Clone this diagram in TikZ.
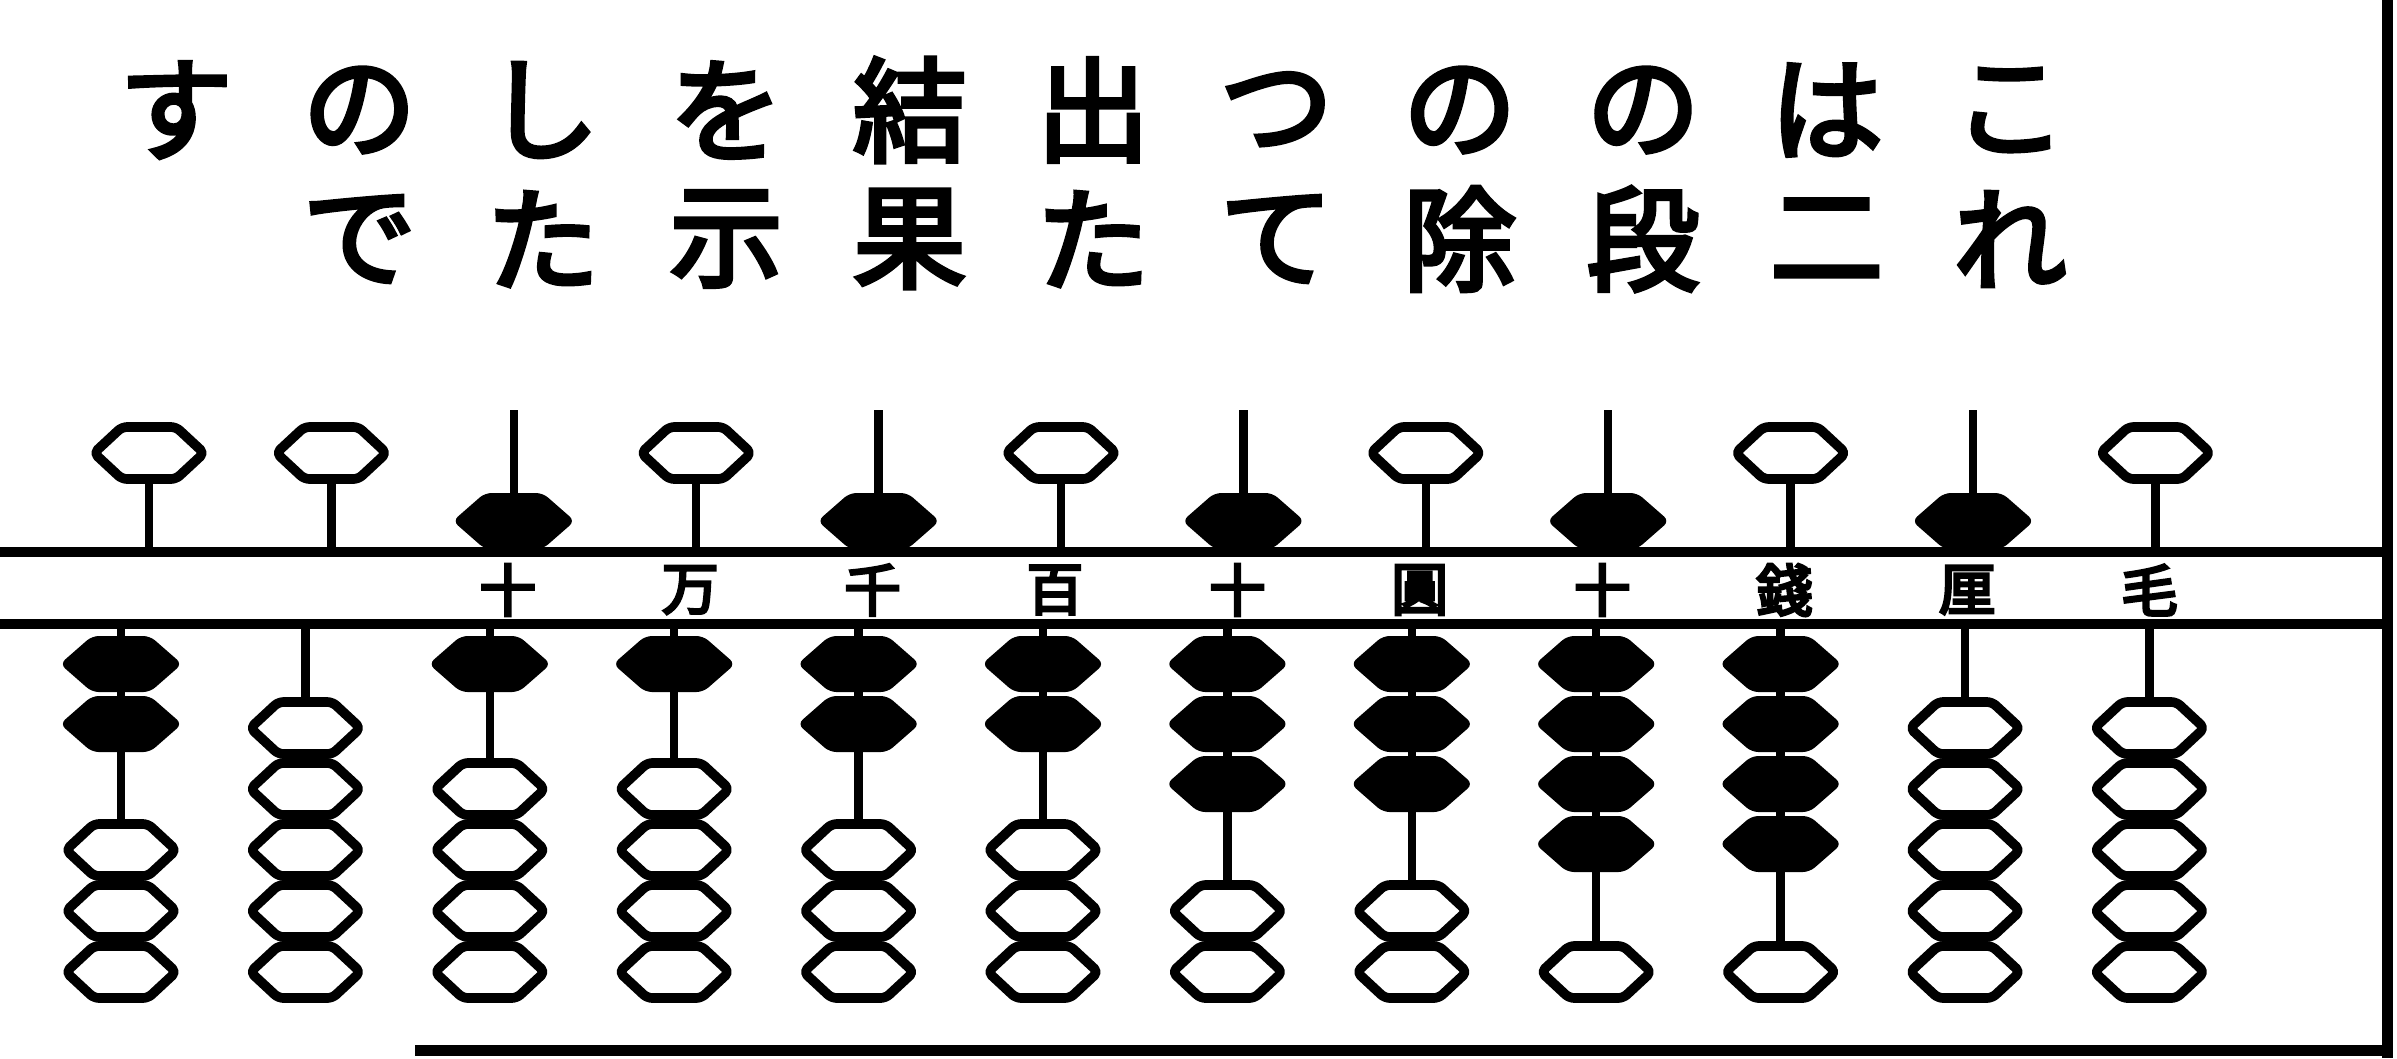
\documentclass[tikz,border=0pt]{standalone}
\usepackage{fontspec}
\newfontfamily\jpfont[FakeBold=4]{Noto Sans CJK JP}
\newfontfamily\jplabfont[FakeBold=5]{Noto Sans CJK JP}
\begin{document}
\begin{tikzpicture}[x=0.3pt,y=-0.3pt,
  headline/.style={font=\jpfont\fontsize{34}{34}\selectfont, inner sep=0pt},
  placelabel/.style={font=\jplabfont\fontsize{17}{17}\selectfont, inner sep=0pt},
  barline/.style={line width=2.8pt},
  rodline/.style={line width=2.5pt},
  frameline/.style={line width=3.3pt},
  beadoutline/.style={line width=2.9pt, line join=round, rounded corners=1.5pt},
  pics/emptybead/.style={code={
    \draw[beadoutline, fill=white] (-55,0) -- (-27,-26) -- (27,-26) -- (55,0)
      -- (27,26) -- (-27,26) -- cycle;}},
  pics/fullbead/.style={code={
    \fill[rounded corners=2pt] (-61,0) -- (-29,-28) -- (29,-28) -- (61,0)
      -- (29,28) -- (-29,28) -- cycle;}}
]
\useasboundingbox (0,0) rectangle (2397,1058);
\fill[white] (0,0) rectangle (2397,1058);

% heading, two rows
\foreach \c [count=\k from 0] in {す,の,し,を,結,出,つ,の,の,は,こ}
  \node[headline] (top\k) at ({176+183.4*\k},110) {\c};
\foreach \c [count=\k from 1] in {で,た,示,果,た,て,除,段,二,れ}
  \node[headline] (bot\k) at ({176+183.4*\k},239) {\c};

% frame and beams
\draw[barline] (0,552) -- (2386,552);
\draw[barline] (0,624) -- (2386,624);
\draw[frameline] (2387,0) -- (2387,1058);
\draw[frameline] (415,1050) -- (2389,1050);

% rods: index / upper bead set / lower beads set
\foreach \i/\u/\n in {1/0/2,2/0/0,3/1/1,4/0/1,5/1/2,6/0/2,7/1/3,8/0/3,9/1/4,10/0/4,11/1/0,12/0/0}{
  \pgfmathsetmacro\xu{149+182.4*(\i-1)}
  \pgfmathsetmacro\xl{\xu-28+2*(\i-1)}
  % upper deck
  \ifnum\u=1
    \draw[rodline] (\xu,410) -- (\xu,552);
    \pic at (\xu,521) {fullbead};
  \else
    \draw[rodline] (\xu,453) -- (\xu,552);
    \pic at (\xu,453) {emptybead};
  \fi
  % lower deck
  \draw[rodline] (\xl,624) -- (\xl,972);
  \ifnum\n>0
    \foreach \k in {1,...,\n}
      \pic at (\xl,{664+60*(\k-1)}) {fullbead};
  \fi
  \pgfmathtruncatemacro\m{5-\n}
  \foreach \k in {1,...,\m}
    \pic at (\xl,{972-61*(\k-1)}) {emptybead};
}

% place-value labels between the beams
\foreach \i/\t in {3/十,4/万,5/千,6/百,7/十,8/圓,9/十,10/錢,11/厘,12/毛}
  \node[placelabel] (lab\i) at ({149+182.4*(\i-1)-6},590) {\t};
\end{tikzpicture}
\end{document}
